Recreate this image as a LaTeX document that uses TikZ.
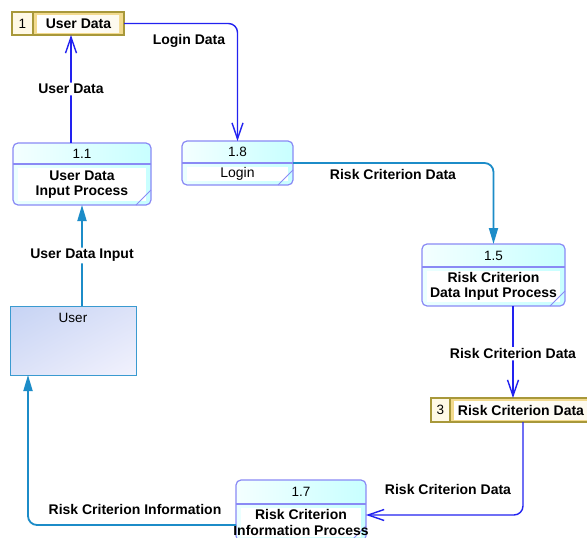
\documentclass[tikz,border=0pt]{standalone}
\usepackage{fontspec}
\setmainfont{Liberation Sans}
\usetikzlibrary{arrows.meta,calc,fit,shadings}
\definecolor{pborder}{HTML}{8A8AF5}
\definecolor{ptop}{HTML}{C8FFFF}
\definecolor{sborder}{HTML}{A8983A}
\definecolor{scell}{HTML}{FFF9E6}
\definecolor{sgold}{HTML}{F2DA8E}
\definecolor{flowblue}{HTML}{2222F0}
\definecolor{flowteal}{HTML}{1C8CC8}
\definecolor{eborder}{HTML}{3A9AD0}
\definecolor{etl}{HTML}{C6D3F4}
\definecolor{etr}{HTML}{DCE2F8}
\definecolor{ebl}{HTML}{DCE2F8}
\definecolor{ebr}{HTML}{F2F2FD}
\tikzset{
  lbl/.style={font=\bfseries\fontsize{14}{16}\selectfont, inner sep=1.5pt, fill=white, align=center},
  num/.style={font=\fontsize{13.5}{16}\selectfont, inner sep=0pt},
  ptext/.style={font=\bfseries\fontsize{14}{15.5}\selectfont, inner sep=0pt, align=center},
  blueflow/.style={draw=flowblue, line width=1.4pt, rounded corners=9pt, -{Straight Barb[length=16pt,width=11pt,line width=1.4pt]}},
  tealflow/.style={draw=flowteal, line width=1.8pt, rounded corners=9pt, -{Triangle[length=16pt,width=9pt]}},
  hull/.style={inner sep=0pt, outer sep=0pt},
}
% name, x1, y1, x2, y2, ydiv, number, label
\newcommand{\procshape}[8]{%
  \begin{scope}
    \clip[rounded corners=5pt] (#2,#3) rectangle (#4,#5);
    \shade[left color=ptop!20, right color=ptop] (#2,#3) rectangle (#4,#6);
    \shade[left color=ptop!35, right color=ptop] (#2,#6) rectangle (#4,#5);
    \fill[white] (#2+5,#6+4) rectangle (#4-5,#5-4);
  \end{scope}
  \draw[pborder, line width=1.2pt, rounded corners=5pt] (#2,#3) rectangle (#4,#5);
  \draw[pborder, line width=1.2pt] (#2,#6) -- (#4,#6);
  \draw[pborder, line width=0.8pt] (#4-15,#5) -- (#4,#5-15);
  \node[hull, fit={(#2,#3)(#4,#5)}] (#1) {};
  \node[num] (#1n) at ({(#2+#4)/2},{(#3+#6)/2}) {#7};
  \node[ptext] (#1l) at ({(#2+#4)/2},{(#6+#5)/2}) {#8};
}
% name, x1, y1, x2, y2, xdiv, number, label
\newcommand{\storeshape}[8]{%
  \fill[scell] (#2,#3) rectangle (#6,#5);
  \fill[sgold] (#6,#3) rectangle (#4,#5);
  \shade[left color=white, right color=white!85!sgold] (#6+4,#3+3) rectangle (#4-5,#5-3);
  \draw[sborder, line width=1.3pt] (#2,#3) rectangle (#4,#5);
  \draw[sborder, line width=1.3pt] (#6,#3) -- (#6,#5);
  \node[hull, fit={(#2,#3)(#4,#5)}] (#1) {};
  \node[num] (#1n) at ({(#2+#6)/2},{(#3+#5)/2}) {#7};
  \node[ptext] (#1l) at ({(#6+#4)/2},{(#3+#5)/2}) {#8};
}
\begin{document}
\begin{tikzpicture}[x=1pt,y=-1pt]
\useasboundingbox (0,0) rectangle (587,538);
\clip (0,0) rectangle (587,538);
\fill[white] (0,0) rectangle (587,538);

% stores
\storeshape{sa}{12}{12}{124}{35}{33}{1}{User Data}
\storeshape{sc}{431}{398}{592}{422}{450}{3}{Risk Criterion Data}

% processes
\procshape{pa}{13}{143}{151}{205}{164}{1.1}{User Data\\Input Process}
\procshape{pb}{182}{141}{293}{185}{163}{1.8}{\mdseries Login}
\procshape{pc}{422}{244}{565}{306}{267}{1.5}{Risk Criterion\\Data Input Process}
\procshape{pd}{236}{480}{366}{541}{504}{1.7}{Risk Criterion\\Information Process}

% external entity
\shade[upper left=etl, upper right=etr, lower left=ebl, lower right=ebr] (10,306) rectangle (136,375);
\draw[eborder, line width=1pt] (10,306) rectangle (136,375);
\node[hull, fit={(10,306)(136,375)}] (user) {};
\node[num] (usert) at (73,318) {User};

% flows
\draw[blueflow] ([xshift=-11pt]pa.north) -- ([xshift=-11pt]pa.north |- sa.south)
  node[lbl, pos=0.5] (la) {User Data};
\draw[blueflow] (sa.east) -- (sa.east -| pb.north) -- (pb.north);
\node[lbl, fill=none] (lb) at (189,41) {Login Data};

\draw[tealflow] (pb.east) -- (pb.east -| pc.north) -- (pc.north);
\node[lbl, fill=none] (lc) at (393,174) {Risk Criterion Data};

\draw[tealflow] (pa.south |- user.north) -- (pa.south)
  node[lbl, pos=0.5] (ld) {User Data Input};

\draw[blueflow] ([xshift=1.5pt]sc.north |- pc.south) -- ([xshift=1.5pt]sc.north)
  node[lbl, pos=0.52] (le) {Risk Criterion Data};

\draw[blueflow] ([xshift=11.5pt]sc.south) |- ([yshift=-4.5pt]pd.east);
\node[lbl, fill=none] (lf) at (448,489) {Risk Criterion Data};

\draw[tealflow] ([yshift=-14.5pt]pd.west) -| ([xshift=18pt]user.south west);
\node[lbl, fill=none] (lg) at (135,509) {Risk Criterion Information};
\end{tikzpicture}
\end{document}
